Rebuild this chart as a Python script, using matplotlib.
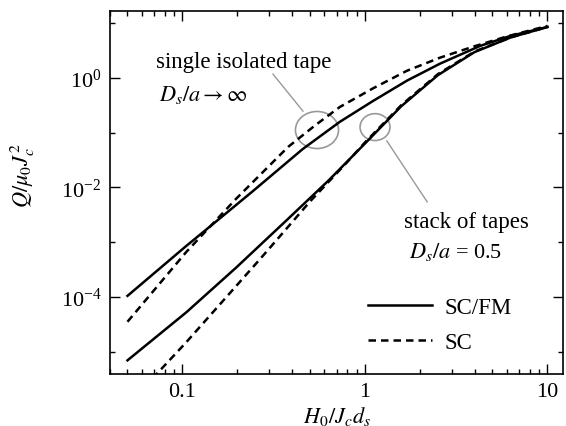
import numpy as np
import matplotlib
matplotlib.use("Agg")
import matplotlib.pyplot as plt
from matplotlib.patches import Ellipse
from matplotlib.ticker import LogFormatterMathtext, FixedFormatter

plt.rcParams['font.family'] = ['Liberation Serif', 'DejaVu Serif']
plt.rcParams['mathtext.fontset'] = 'stix'

# single isolated tape, SC/FM (solid) and SC (dashed)
x_single_fm = [0.05, 0.105, 0.16, 0.243, 0.456, 0.73, 1.11, 1.70, 2.58, 4.29, 6.31, 10]
y_single_fm = [1.04e-4, 8.5e-4, 2.69e-3, 8.5e-3, 0.050, 0.158, 0.38, 0.89, 1.82, 3.85, 5.89, 8.5]
x_single_sc = [0.05, 0.105, 0.198, 0.38, 0.537, 0.73, 1.11, 1.70, 2.58, 3.92, 6.03, 10]
y_single_sc = [3.5e-5, 6.6e-4, 6.3e-3, 0.055, 0.138, 0.295, 0.646, 1.35, 2.34, 3.72, 5.75, 8.9]

# stack of tapes, SC/FM (solid) and SC (dashed)
x_stack_fm = [0.05, 0.105, 0.198, 0.372, 0.63, 1.0, 1.58, 2.51, 3.98, 6.31, 10]
y_stack_fm = [6.9e-6, 5.2e-5, 3.47e-4, 2.5e-3, 0.0132, 0.063, 0.302, 1.12, 2.95, 5.50, 8.5]
x_stack_sc = [0.05, 0.0748, 0.105, 0.16, 0.265, 0.341, 0.50, 0.794, 1.0, 1.58, 2.51, 3.98, 6.31, 10]
y_stack_sc = [1.0e-6, 4.4e-6, 1.48e-5, 7.2e-5, 4.8e-4, 1.26e-3, 5.5e-3, 0.0282, 0.066, 0.316, 1.17, 3.02, 5.50, 8.5]

x_ticks = [0.1, 1, 10]
x_tick_labels = ['0.1', '1', '10']
y_ticks = [1e-4, 1e-2, 1e0]
y_minor = [1e-5, 1e-3, 1e-1, 1e1]

fig = plt.figure(figsize=(5.66, 4.27), dpi=100)
ax = fig.add_axes([0.194, 0.122, 0.801, 0.850])

dash = (0, (3, 2))
ax.plot(x_single_fm, y_single_fm, color='black', lw=1.8, label='SC/FM')
ax.plot(x_single_sc, y_single_sc, color='black', lw=1.8, linestyle=dash, label='SC')
ax.plot(x_stack_fm, y_stack_fm, color='black', lw=1.8)
ax.plot(x_stack_sc, y_stack_sc, color='black', lw=1.8, linestyle=dash)

ax.set_xscale('log')
ax.set_yscale('log')
ax.set_xlim(0.04, 12.2)
ax.set_ylim(3.9e-6, 16.7)

ax.set_xticks(x_ticks)
ax.xaxis.set_major_formatter(FixedFormatter(x_tick_labels))
ax.set_yticks(y_ticks)
ax.set_yticks(y_minor, minor=True)
ax.yaxis.set_major_formatter(LogFormatterMathtext())
ax.yaxis.set_minor_formatter(FixedFormatter([''] * len(y_minor)))

ax.tick_params(which='both', direction='in', top=True, right=True, width=1.0)
ax.tick_params(which='major', length=7, labelsize=16, pad=6)
ax.tick_params(which='minor', length=3.5)
for spine in ax.spines.values():
    spine.set_linewidth(1.2)

ax.set_xlabel('$H_0/J_c d_s$', fontsize=16, labelpad=2)
ax.set_ylabel('$Q/\\mu_0 J_c^2$', fontsize=16)
ax.yaxis.set_label_coords(-0.16, 0.55)

# annotations
grey = '#999999'
ax.add_patch(Ellipse((0.457, 0.672), 0.095, 0.102, transform=ax.transAxes,
                     fill=False, edgecolor=grey, lw=1.2))
ax.add_patch(Ellipse((0.585, 0.680), 0.066, 0.074, transform=ax.transAxes,
                     fill=False, edgecolor=grey, lw=1.2))
ax.plot([0.360, 0.426], [0.826, 0.724], color=grey, lw=1.0, transform=ax.transAxes)
ax.plot([0.611, 0.700], [0.642, 0.474], color=grey, lw=1.0, transform=ax.transAxes)

ax.text(0.102, 0.862, 'single isolated tape', transform=ax.transAxes,
        fontsize=16.5, va='center', ha='left')
ax.text(0.108, 0.771, '$D_s/a \\rightarrow \\infty$', transform=ax.transAxes,
        fontsize=16, va='center', ha='left')
ax.text(0.648, 0.421, 'stack of tapes', transform=ax.transAxes,
        fontsize=16.5, va='center', ha='left')
ax.text(0.660, 0.339, '$D_s/a$ = 0.5', transform=ax.transAxes,
        fontsize=16, va='center', ha='left')

ax.legend(loc='upper left', bbox_to_anchor=(0.570, 0.212), frameon=False,
          fontsize=16.5, handlelength=2.8, handletextpad=0.55, labelspacing=0.6,
          borderpad=0, borderaxespad=0)

fig.savefig('out.png', dpi=100)
